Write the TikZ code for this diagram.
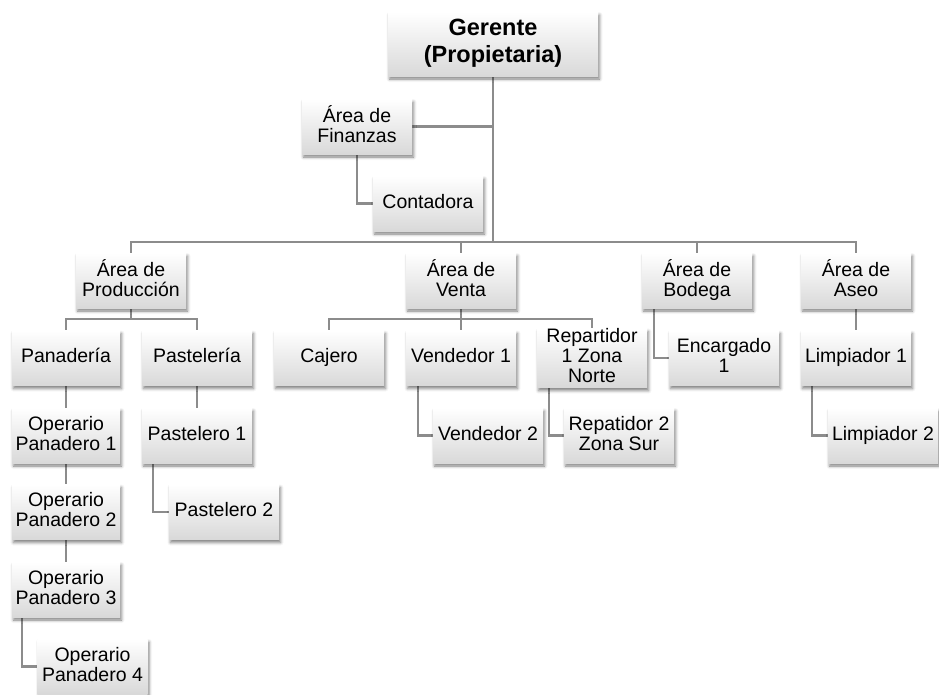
\documentclass[tikz,border=0pt]{standalone}
\usepackage{fontspec}
\setmainfont{Liberation Sans}
\usetikzlibrary{shadows.blur,backgrounds}
\definecolor{linegray}{HTML}{8C8C8C}
\newcommand{\hstrut}{\rule[-5pt]{0pt}{18pt}}
\newcommand{\gstrut}{\rule[-6pt]{0pt}{21pt}}
\tikzset{
  box/.style={shape=rectangle, minimum width=110pt, minimum height=55pt, inner sep=0pt,
    align=center, top color=white, bottom color=black!15, draw=none,
    font=\fontsize{19.5}{20}\selectfont,
    execute at begin node=\hstrut, execute at end node=\hstrut,
    blur shadow={shadow xshift=1.5pt, shadow yshift=-3pt, shadow blur radius=3pt, shadow opacity=50}},
  gbox/.style={box, minimum width=210pt, minimum height=64pt,
    font=\bfseries\fontsize{23.5}{27.5}\selectfont,
    execute at begin node=\gstrut, execute at end node=\gstrut},
  conn/.style={draw=linegray, line width=2.2pt}
}
\begin{document}
\begin{tikzpicture}[x=1pt,y=-1pt]
\useasboundingbox (0,0) rectangle (939,694);
\node[gbox] (ger) at (493,44) {Gerente\\(Propietaria)};
\node[box] (fin) at (357,126.5) {Área de\\Finanzas};
\node[box] (cont) at (428,203.5) {Contadora};
\node[box] (prod) at (131,280.5) {Área de\\Producción};
\node[box] (venta) at (461,280.5) {Área de\\Venta};
\node[box] (bod) at (697,280.5) {Área de\\Bodega};
\node[box] (aseo) at (856,280.5) {Área de\\Aseo};
\node[box, minimum width=108pt] (pan) at (66,358) {Panadería};
\node[box] (past) at (197,358) {Pastelería};
\node[box] (caj) at (329,358) {Cajero};
\node[box] (ven1) at (461,358) {Vendedor 1};
\node[box] (rep1) at (592,358) {Repartidor\\1 Zona\\Norte};
\node[box] (enc) at (724,358) {Encargado\\1};
\node[box] (lim1) at (856,358) {Limpiador 1};
\node[box, minimum width=108pt] (op1) at (66,435.5) {Operario\\Panadero 1};
\node[box] (pas1) at (197,435.5) {Pastelero 1};
\node[box] (ven2) at (488,435.5) {Vendedor 2};
\node[box] (rep2) at (619,435.5) {Repatidor 2\\Zona Sur};
\node[box] (lim2) at (883,435.5) {Limpiador 2};
\node[box, minimum width=108pt] (op2) at (66,512) {Operario\\Panadero 2};
\node[box] (pas2) at (224,512) {Pastelero 2};
\node[box, minimum width=108pt] (op3) at (66,589.5) {Operario\\Panadero 3};
\node[box] (op4) at (92.5,666.5) {Operario\\Panadero 4};
\coordinate (bus) at (493,242);
\coordinate (pbus) at (131,319);
\coordinate (vbus) at (461,319);
\begin{scope}[on background layer]
\draw[conn] (ger.south) -- (bus);
\draw[conn] (prod.north) |- (bus) -| (aseo.north);
\draw[conn] (venta.north) -- (venta.north |- bus);
\draw[conn] (bod.north) -- (bod.north |- bus);
\draw[conn] (fin.east) -- (fin.east -| ger.south);
\draw[conn] (fin.south) |- (cont.west);
\draw[conn] (prod.south) -- (pbus);
\draw[conn] (pan.north) |- (pbus) -| (past.north);
\draw[conn] (venta.south) -- (vbus);
\draw[conn] (caj.north) |- (vbus) -| (rep1.north);
\draw[conn] (ven1.north) -- (vbus);
\draw[conn] ([xshift=-43pt]bod.south) |- (enc.west);
\draw[conn] (aseo.south) -- (lim1.north);
\draw[conn] ([xshift=-44pt]lim1.south) |- (lim2.west);
\draw[conn] (pan.south) -- (op1.north);
\draw[conn] (op1.south) -- (op2.north);
\draw[conn] (op2.south) -- (op3.north);
\draw[conn] ([xshift=-44pt]op3.south) |- (op4.west);
\draw[conn] (past.south) -- (pas1.north);
\draw[conn] ([xshift=-44pt]pas1.south) |- (pas2.west);
\draw[conn] ([xshift=-43pt]ven1.south) |- (ven2.west);
\draw[conn] ([xshift=-43pt]rep1.south) |- (rep2.west);
\end{scope}
\end{tikzpicture}
\end{document}
